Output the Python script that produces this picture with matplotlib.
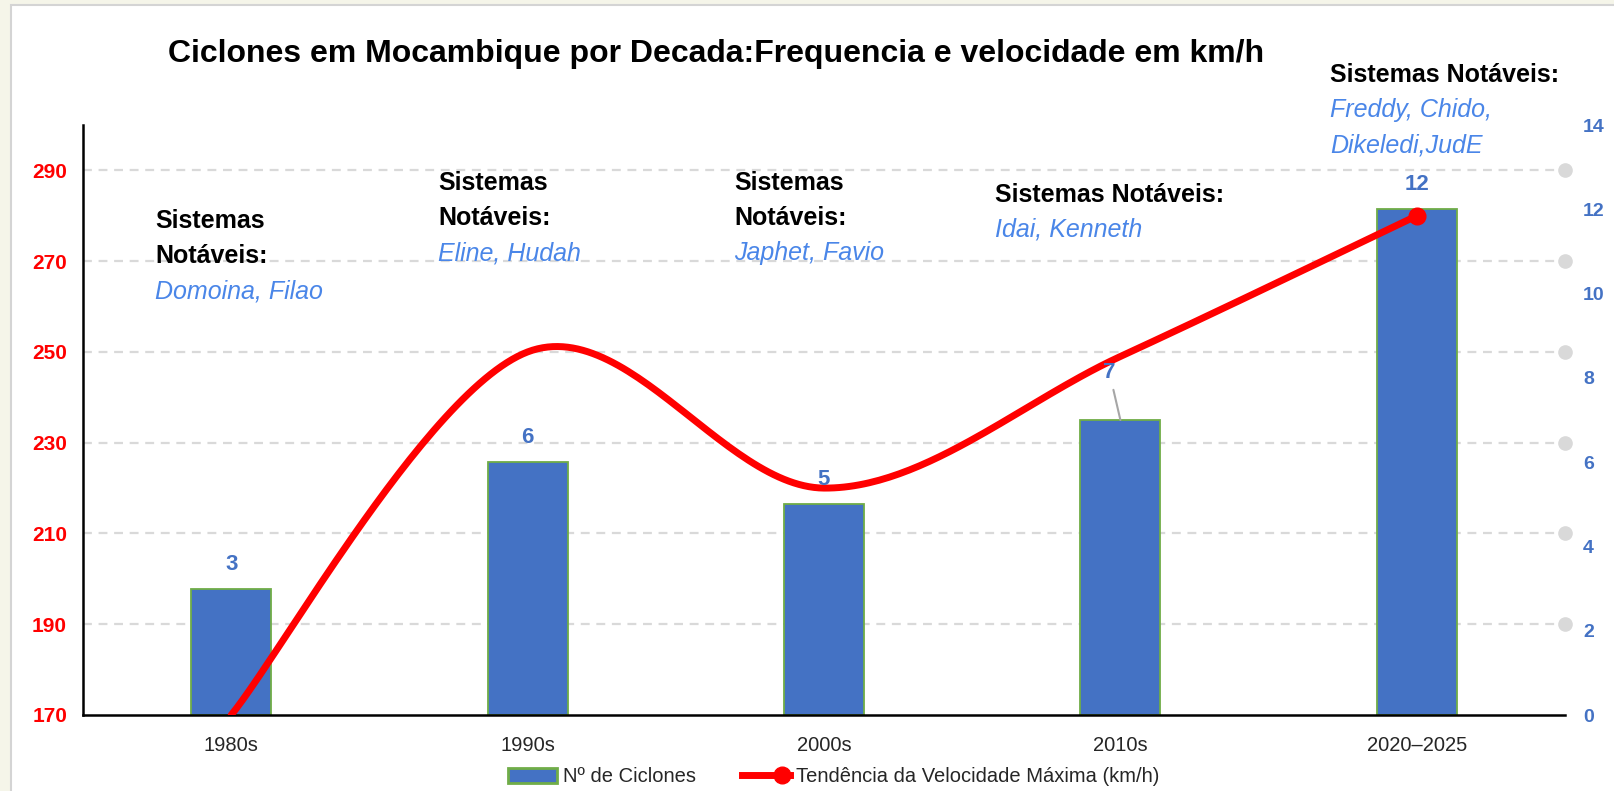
import numpy as np
import matplotlib
matplotlib.use("Agg")
import matplotlib.pyplot as plt
import matplotlib.transforms as mtransforms
from matplotlib.patches import Patch, Rectangle
from matplotlib.lines import Line2D
from matplotlib.legend_handler import HandlerBase

plt.rcParams['font.family'] = ['Liberation Sans', 'DejaVu Sans']

# ---------------- data ----------------
categories = ['1980s', '1990s', '2000s', '2010s', '2020–2025']
n_ciclones = [3, 6, 5, 7, 12]
vel_max = [170, 250, 220, 249, 280]
left_ticks = [170, 190, 210, 230, 250, 270, 290]
right_ticks = [0, 2, 4, 6, 8, 10, 12, 14]
notaveis = [
    ['Domoina, Filao'],
    ['Eline, Hudah'],
    ['Japhet, Favio'],
    ['Idai, Kenneth'],
    ['Freddy, Chido,', 'Dikeledi,JudE'],
]
title = 'Ciclones em Mocambique por Decada:Frequencia e velocidade em km/h'
bar_label_name = 'Nº de Ciclones'
line_label_name = 'Tendência da Velocidade Máxima (km/h)'

# ---------------- layout ----------------
W, H = 1615, 791
fig = plt.figure(figsize=(W / 100, H / 100), dpi=100)
fig.patch.set_facecolor('#F5F5E9')
fig.add_artist(Rectangle((11 / W, -0.02), 1.0, 1 - 5 / H + 0.02, transform=fig.transFigure,
                         facecolor='white', edgecolor='#D4D4D4', lw=1.5, zorder=-1))

ax = fig.add_axes([83 / W, 1 - 715 / H, (1565 - 83) / W, (715 - 125) / H])
ax2 = ax.twinx()
ax.set_zorder(2)
ax2.set_zorder(1)
ax.patch.set_visible(False)

x = np.arange(len(categories))

# gridlines (drawn under the bars, in left-axis units)
gtrans = mtransforms.blended_transform_factory(ax2.transAxes, ax.transData)
for v in left_ticks[1:]:
    ax2.plot([0, 1], [v, v], transform=gtrans, color='#D9D9D9', lw=1.6,
             dashes=(4, 3), zorder=1)
    ax2.plot([1], [v], transform=gtrans, marker='o', ms=9.5, color='#D9D9D9',
             clip_on=False, zorder=1)

# bars (right axis)
ax2.bar(x, n_ciclones, width=0.27, color='#4472C4', edgecolor='#70AD47',
        linewidth=1.3, zorder=3)

# smoothed line (Excel-like Catmull-Rom / Bezier)
P = np.column_stack([x.astype(float), np.asarray(vel_max, dtype=float)])
Pext = np.vstack([P[0], P, P[-1]])
curve = []
t = np.linspace(0, 1, 60)[:, None]
for i in range(len(P) - 1):
    p0, p1, p2, p3 = Pext[i], Pext[i + 1], Pext[i + 2], Pext[i + 3]
    c1 = p1 + (p2 - p0) / 6.0
    c2 = p2 - (p3 - p1) / 6.0
    seg = ((1 - t) ** 3) * p1 + 3 * ((1 - t) ** 2) * t * c1 + 3 * (1 - t) * t ** 2 * c2 + t ** 3 * p2
    curve.append(seg if i == 0 else seg[1:])
curve = np.vstack(curve)
ax.plot(curve[:, 0], curve[:, 1], color='#FF0000', lw=5, solid_capstyle='round', zorder=3)
ax.plot([x[-1]], [vel_max[-1]], 'o', color='#FF0000', ms=12, zorder=4)

# bar value labels (on top of line)
label_offsets = {3: (-11, 42)}
for i, v in enumerate(n_ciclones):
    dx, dy = label_offsets.get(i, (0, 19))
    kw = {}
    if i in label_offsets:
        kw['arrowprops'] = dict(arrowstyle='-', color='#A6A6A6', lw=1.5,
                                shrinkA=3, shrinkB=0)
    ax.annotate(str(v), xy=(x[i], v), xycoords=ax2.transData,
                xytext=(dx, dy), textcoords='offset pixels',
                ha='center', va='baseline', fontsize=16, fontweight='bold',
                color='#4472C4', zorder=6, **kw)

# axes limits & ticks
ax.set_xlim(-0.5, len(categories) - 0.5)
ax.set_ylim(170, 300)
ax2.set_ylim(0, 14)
ax.set_yticks(left_ticks)
ax.set_yticklabels([str(v) for v in left_ticks])
ax2.set_yticks(right_ticks)
ax2.set_yticklabels([str(v) for v in right_ticks])
ax.set_xticks(x)
ax.set_xticklabels(categories)

ax.tick_params(axis='y', length=0, pad=11.5, labelsize=15, labelcolor='#FF0000')
for lab in ax.get_yticklabels():
    lab.set_fontweight('bold')
ax2.tick_params(axis='y', length=0, pad=13, labelsize=14, labelcolor='#4472C4')
for lab in ax2.get_yticklabels():
    lab.set_fontweight('bold')
ax.tick_params(axis='x', length=0, pad=15, labelsize=14.5, labelcolor='#262626')

for s in ['top', 'right']:
    ax.spines[s].set_visible(False)
for s in ax2.spines.values():
    s.set_visible(False)
ax.spines['left'].set_linewidth(1.8)
ax.spines['bottom'].set_linewidth(1.8)
ax.spines['left'].set_color('black')
ax.spines['bottom'].set_color('black')

# title
fig.text(716 / W, 1 - 62 / H, title, ha='center', va='baseline',
         fontsize=23, fontweight='bold', color='black')

# notable systems annotations (x_px, first baseline px, header lines)
ann_layout = [
    (155, 228, ['Sistemas', 'Notáveis:']),
    (438, 190, ['Sistemas', 'Notáveis:']),
    (734, 190, ['Sistemas', 'Notáveis:']),
    (995, 202, ['Sistemas Notáveis:']),
    (1330, 82, ['Sistemas Notáveis:']),
]
line_step = 35
for (xp, yb, header), names in zip(ann_layout, notaveis):
    k = 0
    for h in header:
        fig.text(xp / W, 1 - (yb + k * line_step) / H, h, ha='left', va='baseline',
                 fontsize=18, fontweight='bold', color='black')
        k += 1
    for nm in names:
        fig.text(xp / W, 1 - (yb + k * line_step) / H, nm, ha='left', va='baseline',
                 fontsize=18, fontstyle='italic', color='#4A86E8')
        k += 1


# legend
class EndMarkerHandler(HandlerBase):
    def create_artists(self, legend, orig_handle, xdescent, ydescent, width, height,
                       fontsize, trans):
        y = (height - ydescent) / 2
        line = Line2D([-xdescent, -xdescent + width], [y, y], color='#FF0000', lw=5)
        mk = Line2D([-xdescent + width - 0.4 * fontsize], [y], marker='o', ms=12,
                    color='#FF0000', linestyle='none')
        line.set_transform(trans)
        mk.set_transform(trans)
        return [line, mk]


bar_h = Patch(facecolor='#4472C4', edgecolor='#70AD47', lw=2, label=bar_label_name)
line_h = Line2D([], [], color='#FF0000', lw=5, marker='o', ms=12, label=line_label_name)
fig.legend(handles=[bar_h, line_h], loc='center', bbox_to_anchor=(834 / W, 1 - 777 / H),
           ncol=2, frameon=False, fontsize=14.5, handlelength=2.4, handletextpad=0.3,
           columnspacing=2.3, handler_map={line_h: EndMarkerHandler()},
           labelcolor='#262626')

fig.savefig('out.png', dpi=100, facecolor=fig.get_facecolor())
